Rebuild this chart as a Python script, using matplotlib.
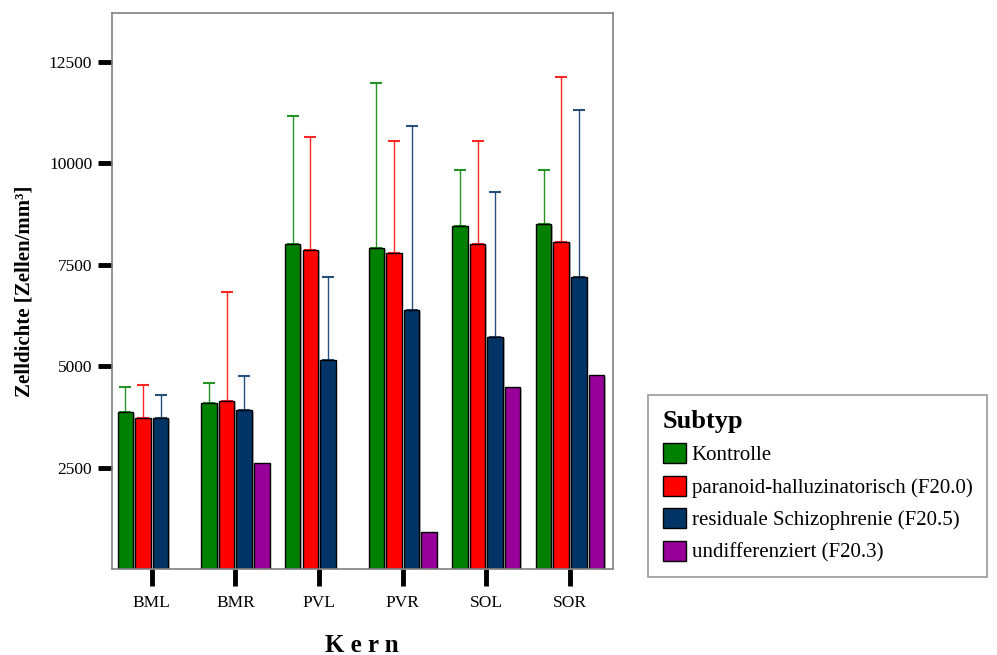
import numpy as np
import matplotlib
matplotlib.use("Agg")
import matplotlib.pyplot as plt
import matplotlib.patheffects as pe
from matplotlib.patches import Patch

plt.rcParams['font.family'] = ['Liberation Serif', 'DejaVu Serif']

# Kerne und Subtypen
kerne = ["BML", "BMR", "PVL", "PVR", "SOL", "SOR"]
subtypen = ["Kontrolle", "paranoid-halluzinatorisch (F20.0)",
            "residuale Schizophrenie (F20.5)", "undifferenziert (F20.3)"]
farben = ["#008000", "#ff0000", "#003366", "#990099"]

# Mittelwerte (Zellen/mm3)
kontrolle = [3870, 4100, 8010, 7920, 8450, 8500]
paranoid = [3730, 4150, 7870, 7780, 8010, 8070]
residual = [3730, 3920, 5150, 6390, 5730, 7210]
undiff = [np.nan, 2620, np.nan, 910, 4490, 4780]

# obere Fehlerbalken-Enden
kontrolle_oben = [4490, 4590, 11160, 11980, 9830, 9830]
paranoid_oben = [4540, 6830, 10640, 10540, 10540, 12120]
residual_oben = [4290, 4770, 7210, 10920, 9300, 11310]

werte = [kontrolle, paranoid, residual, undiff]
oben = [kontrolle_oben, paranoid_oben, residual_oben, None]

fig = plt.figure(figsize=(9.97, 6.55), dpi=100)
ax = fig.add_axes([0.112, 0.1313, 0.5025, 0.8484])

x = np.arange(len(kerne))
slot = 0.21
breite = 0.185
schatten = [pe.withSimplePatchShadow(offset=(1.2, -1.2), shadow_rgbFace="gray", alpha=0.5)]

for i, (w, o, f) in enumerate(zip(werte, oben, farben)):
    pos = x + (i - 1.5) * slot
    w = np.array(w, dtype=float)
    bars = ax.bar(pos, w, width=breite, color=f, edgecolor="black", linewidth=1.0, zorder=2)
    for b in bars:
        b.set_path_effects(schatten)
    if o is not None:
        err = np.array(o) - w
        ax.errorbar(pos, w, yerr=[np.zeros_like(err), err], fmt="none",
                    ecolor=f, elinewidth=1.0, capsize=4.5, capthick=1.5, alpha=0.85, zorder=1)

ax.set_xlim(-0.48, 5.51)
ax.set_ylim(0, 13700)
ax.set_xticks(x)
ax.set_xticklabels(kerne, fontsize=12.5)
ax.set_yticks([2500, 5000, 7500, 10000, 12500])
ax.set_yticklabels(["2500", "5000", "7500", "10000", "12500"], fontsize=12.5)
ax.tick_params(axis="x", direction="out", length=12, width=3.5, pad=7)
ax.tick_params(axis="y", direction="out", length=10, width=3.5, pad=4)
for s in ax.spines.values():
    s.set_color("#808080")
    s.set_linewidth(1.2)

ax.set_ylabel("Zelldichte [Zellen/mm³]", fontsize=15, fontweight="bold", labelpad=10)
ax.set_xlabel("K e r n", fontsize=18, fontweight="bold", labelpad=16)

handles = [Patch(facecolor=f, edgecolor="black", linewidth=1) for f in farben]
leg = fig.legend(handles, subtypen, title="Subtyp", loc="upper left",
                 bbox_to_anchor=(648 / 997, 1 - 395 / 655),
                 prop={"size": 15}, title_fontproperties={"size": 19, "weight": "bold"},
                 alignment="left", frameon=True, fancybox=False, edgecolor="#808080",
                 handlelength=1.1, handleheight=1.1, handletextpad=0.3,
                 labelspacing=0.5, borderpad=0.7, borderaxespad=0)
leg.get_frame().set_linewidth(1.2)

fig.savefig("out.png", dpi=100)
